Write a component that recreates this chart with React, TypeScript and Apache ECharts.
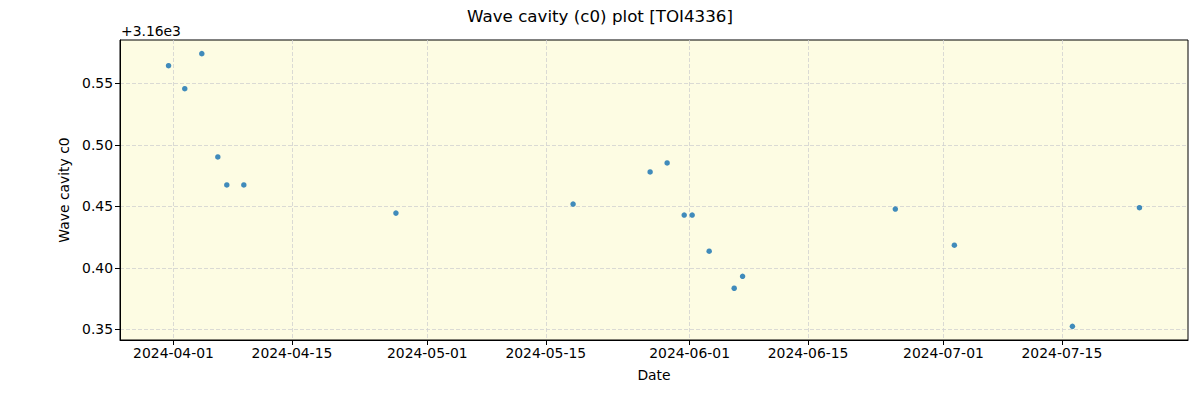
import React, { useEffect, useRef } from "react";
import * as echarts from "echarts";

const DATES = [
  "2024-03-31T10:00Z", "2024-04-02T08:00Z", "2024-04-04T08:20Z", "2024-04-06T05:45Z",
  "2024-04-07T07:15Z", "2024-04-09T07:30Z", "2024-04-27T07:00Z", "2024-05-18T05:30Z",
  "2024-05-27T08:00Z", "2024-05-29T08:15Z", "2024-05-31T08:40Z", "2024-06-01T07:15Z",
  "2024-06-03T07:30Z", "2024-06-06T06:30Z", "2024-06-07T06:15Z", "2024-06-25T07:30Z",
  "2024-07-02T07:00Z", "2024-07-16T05:50Z", "2024-07-24T04:00Z",
];
// values relative to the offset +3.16e3
const C0 = [
  0.5644, 0.5457, 0.5742, 0.4902, 0.4674, 0.4674, 0.4445, 0.4519,
  0.4780, 0.4853, 0.4429, 0.4429, 0.4135, 0.3834, 0.3931, 0.4478,
  0.4184, 0.3524, 0.4489,
];
const X_TICKS = [
  "2024-04-01", "2024-04-15", "2024-05-01", "2024-05-15",
  "2024-06-01", "2024-06-15", "2024-07-01", "2024-07-15",
];
const Y_TICKS = [0.35, 0.4, 0.45, 0.5, 0.55];
const OFFSET_TEXT = "+3.16e3";
const TITLE = "Wave cavity (c0) plot [TOI4336]";

const FONT = "DejaVu Sans";

function fmtDate(v: number) {
  const d = new Date(v);
  const p = (n: number) => String(n).padStart(2, "0");
  return `${d.getUTCFullYear()}-${p(d.getUTCMonth() + 1)}-${p(d.getUTCDate())}`;
}

export default function App() {
  const ref = useRef<HTMLDivElement>(null);
  useEffect(() => {
    if (!ref.current) return;
    const chart = echarts.init(ref.current, null, { renderer: "svg" });
    const xs = DATES.map((d) => Date.parse(d));
    const xMinD = Math.min(...xs), xMaxD = Math.max(...xs);
    const xr = xMaxD - xMinD;
    const yMinD = Math.min(...C0), yMaxD = Math.max(...C0);
    const yr = yMaxD - yMinD;
    const xTicks = X_TICKS.map((d) => Date.parse(d + "T00:00Z"));
    const data = xs.map((x, i) => [x, C0[i]]);
    const gridLine = { show: true, lineStyle: { color: "#d0d0d0", type: [4, 2], width: 0.8 } };
    chart.setOption({
      animation: false,
      title: {
        text: TITLE,
        left: "center",
        top: 7,
        padding: 0,
        textStyle: { fontFamily: FONT, fontSize: 16.7, fontWeight: "normal", color: "#000" },
      },
      graphic: [
        {
          type: "text",
          left: 121,
          top: 24,
          style: { text: OFFSET_TEXT, font: `13.9px "${FONT}"`, fill: "#000" },
        },
      ],
      grid: {
        left: 120, top: 40, width: 1068, height: 300,
        show: true, backgroundColor: "#fdfce3", borderColor: "#000", borderWidth: 1,
      },
      xAxis: {
        type: "value",
        min: xMinD - 0.05 * xr,
        max: xMaxD + 0.05 * xr,
        name: "Date",
        nameLocation: "middle",
        nameGap: 28,
        nameTextStyle: { fontFamily: FONT, fontSize: 13.9, color: "#000" },
        axisLine: { show: true, lineStyle: { color: "#000", width: 1 } },
        axisTick: { show: true, customValues: xTicks, length: 5, lineStyle: { color: "#000" } },
        axisLabel: {
          customValues: xTicks,
          formatter: (v: number) => fmtDate(v),
          fontFamily: FONT, fontSize: 13.9, color: "#000", margin: 6,
        },
        splitLine: gridLine,
      },
      yAxis: {
        type: "value",
        min: yMinD - 0.05 * yr,
        max: yMaxD + 0.05 * yr,
        name: "Wave cavity c0",
        nameLocation: "middle",
        nameGap: 48,
        nameTextStyle: { fontFamily: FONT, fontSize: 13.9, color: "#000" },
        axisLine: { show: true, lineStyle: { color: "#000", width: 1 } },
        axisTick: { show: true, customValues: Y_TICKS, length: 5, lineStyle: { color: "#000" } },
        axisLabel: {
          customValues: Y_TICKS,
          formatter: (v: number) => v.toFixed(2),
          fontFamily: FONT, fontSize: 13.9, color: "#000", margin: 7,
        },
        splitLine: gridLine,
      },
      series: [
        {
          type: "scatter",
          data,
          symbolSize: 5.5,
          itemStyle: { color: "#1f77b4", opacity: 0.85 },
        },
      ],
    });
    return () => chart.dispose();
  }, []);
  return (
    <div
      ref={ref}
      style={{ position: "fixed", left: 0, top: 0, width: 1200, height: 400, background: "#fff" }}
    />
  );
}
